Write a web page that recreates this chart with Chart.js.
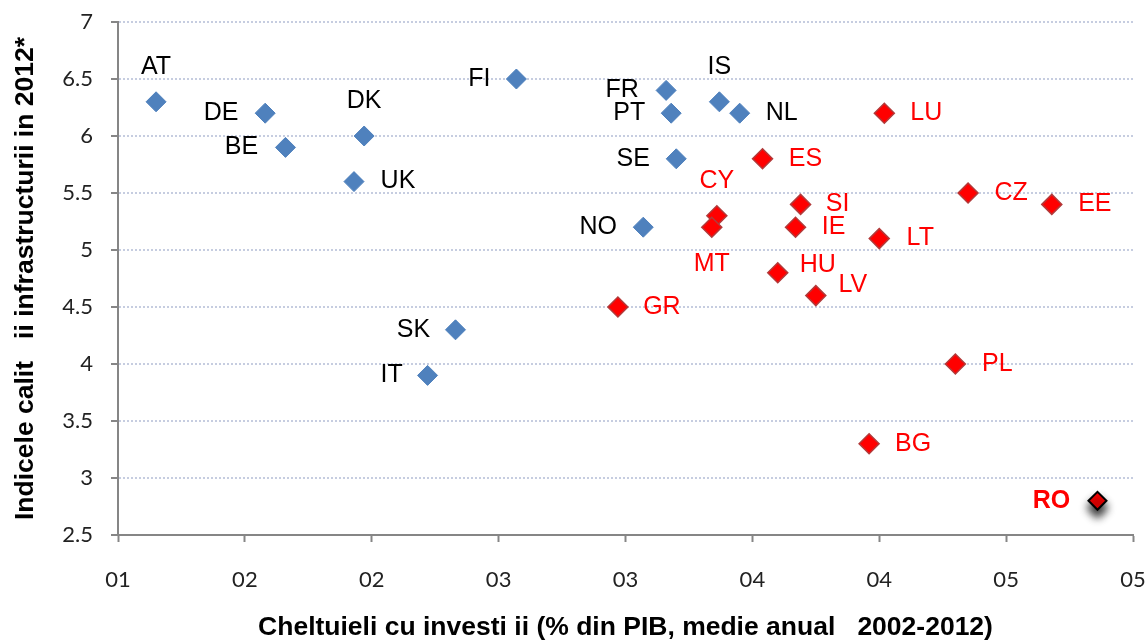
<!DOCTYPE html>
<html>
<head>
<meta charset="utf-8">
<script src="https://cdn.jsdelivr.net/npm/chart.js@4"></script>
<style>
  html, body { margin: 0; padding: 0; background: #ffffff; }
  #wrap { width: 1148px; height: 641px; position: relative; }
</style>
</head>
<body>
<div id="wrap"><canvas id="mainChart" width="1148" height="641"></canvas></div>
<script>
// Data: Western / northern countries (blue)
const blueCodes = ['AT', 'DE', 'BE', 'DK', 'UK', 'FI', 'FR', 'PT', 'IS', 'NL', 'SE', 'NO', 'SK', 'IT'];
const blueX = [0.0115, 0.0158, 0.0166, 0.0197, 0.0193, 0.0257, 0.0316, 0.0318, 0.0337, 0.0345, 0.0320, 0.0307, 0.0233, 0.0222];
const blueY = [6.3, 6.2, 5.9, 6.0, 5.6, 6.5, 6.4, 6.2, 6.3, 6.2, 5.8, 5.2, 4.3, 3.9];

// Data: newer / southern members (red)
const redCodes = ['LU', 'ES', 'CY', 'MT', 'SI', 'IE', 'LT', 'HU', 'LV', 'GR', 'CZ', 'EE', 'PL', 'BG'];
const redX = [0.0402, 0.0354, 0.0336, 0.0334, 0.0369, 0.0367, 0.0400, 0.0360, 0.0375, 0.0297, 0.0435, 0.0468, 0.0430, 0.0396];
const redY = [6.2, 5.8, 5.3, 5.2, 5.4, 5.2, 5.1, 4.8, 4.6, 4.5, 5.5, 5.4, 4.0, 3.3];

// Data: Romania (highlighted)
const roCodes = ['RO'];
const roX = [0.0486];
const roY = [2.8];

// Axis tick labels as shown in the original
const xTickLabels = ['01', '02', '02', '03', '03', '04', '04', '05', '05'];

const yTitle = 'Indicele calit   ii infrastructurii in 2012*';
const xTitle = 'Cheltuieli cu investi ii (% din PIB, medie anual   2002-2012)';

// Label placement relative to the marker (px)
const labelOffsets = {
    AT: [0, -35], DE: [-44, 0], BE: [-44, 0], DK: [0, -35], UK: [44, 0],
    FI: [-37, 0], FR: [-44, 0], PT: [-42, 0], IS: [0, -35], NL: [42, 0],
    SE: [-43, 0], NO: [-45, 0], SK: [-42, 0], IT: [-36, 0],
    LU: [42, 0], ES: [43, 0], CY: [0, -35], MT: [0, 37], SI: [37, 0],
    IE: [38, 0], LT: [41, 0], HU: [40, -8], LV: [37, -10], GR: [44, 0],
    CZ: [43, 0], EE: [43, 0], PL: [42, 0], BG: [44, 0], RO: [-46, 0]
};

function toPoints(xs, ys) {
    return xs.map((x, i) => ({ x: x, y: ys[i] }));
}

const datasets = [
    {
        label: 'blue',
        codes: blueCodes,
        data: toPoints(blueX, blueY),
        pointStyle: 'rectRot',
        pointRadius: 10,
        pointHoverRadius: 10,
        backgroundColor: '#4f81bd',
        borderColor: '#4f81bd',
        borderWidth: 1,
        labelColor: '#000000',
        labelFont: '25px "Liberation Sans", Arial, sans-serif'
    },
    {
        label: 'red',
        codes: redCodes,
        data: toPoints(redX, redY),
        pointStyle: 'rectRot',
        pointRadius: 10,
        pointHoverRadius: 10,
        backgroundColor: '#ff0000',
        borderColor: '#b23a3a',
        borderWidth: 1.5,
        labelColor: '#ff0000',
        labelFont: '25px "Liberation Sans", Arial, sans-serif'
    },
    {
        label: 'ro',
        codes: roCodes,
        data: toPoints(roX, roY),
        pointStyle: 'rectRot',
        pointRadius: 9,
        pointHoverRadius: 9,
        backgroundColor: '#ff0000',
        borderColor: '#000000',
        borderWidth: 2,
        labelColor: '#ff0000',
        labelFont: 'bold 25px "Liberation Sans", Arial, sans-serif',
        shadow: true
    }
];

// Shadow under the highlighted marker
const shadowPlugin = {
    id: 'shadow',
    beforeDatasetDraw(chart, args) {
        const ds = chart.data.datasets[args.index];
        if (!ds.shadow) return;
        const ctx = chart.ctx;
        ctx.save();
        ctx.shadowColor = 'rgba(0,0,0,0.85)';
        ctx.shadowBlur = 9;
        ctx.shadowOffsetY = 7;
    },
    afterDatasetDraw(chart, args) {
        const ds = chart.data.datasets[args.index];
        if (!ds.shadow) return;
        chart.ctx.restore();
    }
};

// Country code labels next to the markers
const labelPlugin = {
    id: 'pointLabels',
    afterDatasetsDraw(chart) {
        const ctx = chart.ctx;
        ctx.save();
        ctx.textAlign = 'center';
        ctx.textBaseline = 'middle';
        chart.data.datasets.forEach((ds, di) => {
            const meta = chart.getDatasetMeta(di);
            ctx.fillStyle = ds.labelColor;
            ctx.font = ds.labelFont;
            meta.data.forEach((el, i) => {
                const code = ds.codes[i];
                const off = labelOffsets[code] || [0, 0];
                ctx.fillText(code, el.x + off[0], el.y + off[1]);
            });
        });
        ctx.restore();
    }
};

const bgPlugin = {
    id: 'bg',
    beforeDraw(chart) {
        const ctx = chart.ctx;
        ctx.save();
        ctx.fillStyle = '#ffffff';
        ctx.fillRect(0, 0, chart.width, chart.height);
        ctx.restore();
    }
};

const tickFont = { family: 'Lato, "Open Sans", sans-serif', size: 22 };
const titleFont = { family: '"Liberation Sans", Arial, sans-serif', size: 26.5, weight: 'bold', lineHeight: 1 };

const ctx = document.getElementById('mainChart').getContext('2d');
const chart = new Chart(ctx, {
    type: 'scatter',
    data: { datasets: datasets },
    plugins: [bgPlugin, shadowPlugin, labelPlugin],
    options: {
        responsive: false,
        animation: false,
        events: [],
        layout: { padding: { top: 22, right: 15, left: 0, bottom: 0 } },
        plugins: {
            legend: { display: false },
            tooltip: { enabled: false }
        },
        scales: {
            x: {
                type: 'linear',
                min: 0.01,
                max: 0.05,
                afterBuildTicks(scale) {
                    scale.ticks = xTickLabels.map((t, i) => ({ value: 0.01 + i * 0.005 }));
                },
                afterFit(scale) {
                    scale.height = 106;
                    scale.paddingLeft = 0;
                    scale.paddingRight = 0;
                },
                ticks: {
                    color: '#222222',
                    font: tickFont,
                    padding: 25,
                    maxRotation: 0,
                    autoSkip: false,
                    callback: (v, i) => xTickLabels[i]
                },
                grid: {
                    display: true,
                    drawOnChartArea: false,
                    drawTicks: true,
                    tickLength: 7,
                    tickColor: '#868686',
                    tickWidth: 2
                },
                border: { display: true, color: '#868686', width: 2 },
                title: {
                    display: true,
                    text: xTitle,
                    color: '#000000',
                    font: titleFont,
                    padding: { top: 0, bottom: 0 }
                }
            },
            y: {
                min: 2.5,
                max: 7,
                afterFit(scale) {
                    scale.width = 118;
                    scale.paddingTop = 0;
                    scale.paddingBottom = 0;
                },
                ticks: {
                    stepSize: 0.5,
                    color: '#222222',
                    font: tickFont,
                    padding: 18,
                    callback: (v) => String(v)
                },
                grid: {
                    color: '#c6cde0',
                    lineWidth: 2,
                    drawTicks: true,
                    tickLength: 7,
                    tickColor: '#868686',
                    tickWidth: 2,
                    tickBorderDash: []
                },
                border: { display: true, color: '#868686', width: 2, dash: [2, 2] },
                title: {
                    display: true,
                    text: yTitle,
                    color: '#000000',
                    font: titleFont,
                    padding: { top: 12, bottom: 0 }
                }
            }
        }
    }
});
</script>
</body>
</html>
